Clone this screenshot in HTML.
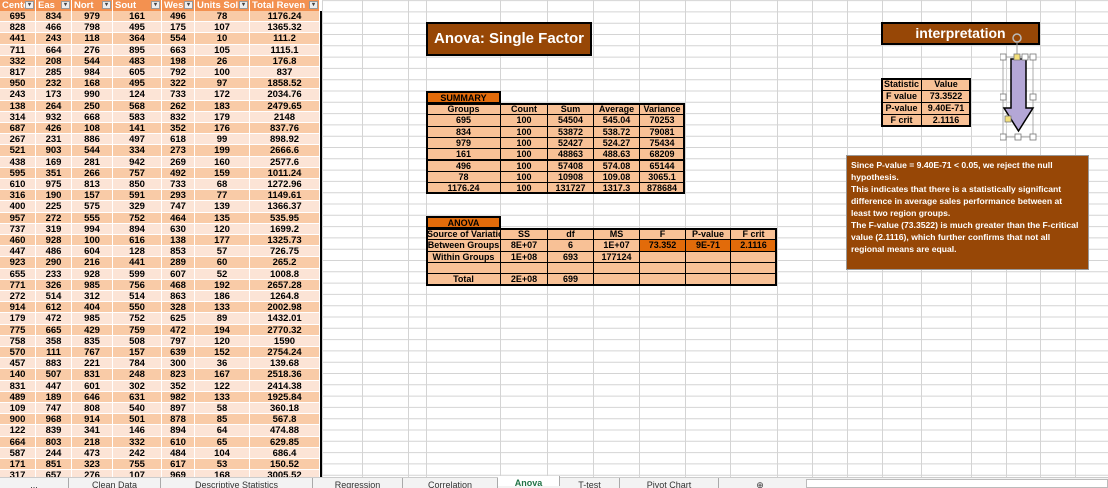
<!DOCTYPE html>
<html><head><meta charset="utf-8">
<style>
*{margin:0;padding:0;box-sizing:border-box}
body{width:1108px;height:488px;overflow:hidden;background:#fff;position:relative;font-family:"Liberation Sans",sans-serif}
.abs{position:absolute}
#grid{position:absolute;left:0;top:0;width:1108px;height:477px}
.cell{position:absolute;font-weight:bold;font-size:9.5px;line-height:11px;text-align:center;color:#000;white-space:nowrap;overflow:hidden}
.hdr{position:absolute;top:0;height:11px;background:#f39150;color:#fff;font-weight:bold;font-size:9.5px;line-height:11px;padding-left:2px;overflow:hidden;white-space:nowrap;border-right:1px solid #fff}
.dd{position:absolute;right:1px;top:1px;width:9px;height:8px;background:#eee;border:1px solid #999;font-size:6px;line-height:6px;color:#444;text-align:center}
.t{position:absolute;font-weight:bold;font-size:9px;text-align:center;line-height:11px;border:1px solid #000;background:#f8c196;white-space:nowrap;overflow:hidden}
.tab{position:absolute;top:478px;height:10px;font-size:9px;color:#333;line-height:14px;border-right:1px solid #aaa;text-align:center;overflow:hidden}
</style></head><body>
<svg id="grid"></svg>
<div id="datatable"></div>
<div class="abs" style="left:320px;top:11px;width:2px;height:466px;background:#000"></div>

<div class="abs" style="left:426px;top:22px;width:166px;height:34px;background:#974706;border:2px solid #000;color:#fff;font-weight:bold;font-size:15px;line-height:30px;padding-left:6px">Anova: Single Factor</div>

<div id="summary"></div>
<div id="anova"></div>

<div class="abs" style="left:881px;top:22px;width:159px;height:23px;background:#974706;border:2px solid #000;color:#fff;font-weight:bold;font-size:14px;line-height:19px;text-align:center">interpretation</div>

<div id="stats"></div>

<svg class="abs" style="left:1000px;top:30px" width="50" height="112">
<circle cx="17" cy="8" r="4" fill="none" stroke="#bbb" stroke-width="1.5"/>
<line x1="17" y1="12" x2="17" y2="27" stroke="#999"/>
<rect x="3" y="27" width="30" height="80" fill="none" stroke="#999" stroke-width="0.8"/>
<polygon points="11,29 26,29 26,78 33,78 18.5,101 4,78 11,78" fill="#b4a7d6" stroke="#000" stroke-width="1.5"/>
<g fill="#fff" stroke="#777" stroke-width="0.8">
<rect x="0" y="24" width="6" height="6"/><rect x="14" y="24" width="6" height="6" fill="#f3df7a"/><rect x="22" y="24" width="6" height="6"/><rect x="30" y="24" width="6" height="6"/>
<rect x="0" y="64" width="6" height="6"/><rect x="30" y="64" width="6" height="6"/>
<rect x="5" y="86" width="6" height="6" fill="#f3df7a"/>
<rect x="0" y="104" width="6" height="6"/><rect x="15" y="104" width="6" height="6"/><rect x="30" y="104" width="6" height="6"/>
</g>
</svg>

<div class="abs" style="left:846px;top:155px;width:243px;height:115px;background:#974706;border:1px solid #999;color:#fff;font-weight:bold;font-size:8.6px;line-height:12px;padding:3px 4px">Since P-value = 9.40E-71 &lt; 0.05, we reject the null hypothesis.<br>This indicates that there is a statistically significant difference in average sales performance between at least two region groups.<br>The F-value (73.3522) is much greater than the F-critical value (2.1116), which further confirms that not all regional means are equal.</div>

<div class="abs" style="left:0;top:477px;width:1108px;height:11px;background:#f3f3f3;border-top:1px solid #ccc"></div>
<div class="tab" style="left:0;width:69px">...</div>
<div class="tab" style="left:69px;width:92px">Clean Data</div>
<div class="tab" style="left:161px;width:152px">Descriptive Statistics</div>
<div class="tab" style="left:313px;width:90px">Regression</div>
<div class="tab" style="left:403px;width:95px">Correlation</div>
<div class="tab" style="left:498px;width:62px;background:#fff;color:#217346;font-weight:bold;top:476px">Anova</div>
<div class="tab" style="left:560px;width:60px">T-test</div>
<div class="tab" style="left:620px;width:99px">Pivot Chart</div>
<div class="tab" style="left:745px;width:30px;border:none">⊕</div>
<div class="abs" style="left:806px;top:479px;width:302px;height:9px;border:1px solid #bbb;background:#fff"></div>

<script>
const headers=["Cente","Eas","Nort","Sout","Wes","Units Sol","Total Reven"];
const rows=[
[695,834,979,161,496,78,"1176.24"],[828,466,798,495,175,107,"1365.32"],[441,243,118,364,554,10,"111.2"],
[711,664,276,895,663,105,"1115.1"],[332,208,544,483,198,26,"176.8"],[817,285,984,605,792,100,"837"],
[950,232,168,495,322,97,"1858.52"],[243,173,990,124,733,172,"2034.76"],[138,264,250,568,262,183,"2479.65"],
[314,932,668,583,832,179,"2148"],[687,426,108,141,352,176,"837.76"],[267,231,886,497,618,99,"898.92"],
[521,903,544,334,273,199,"2666.6"],[438,169,281,942,269,160,"2577.6"],[595,351,266,757,492,159,"1011.24"],
[610,975,813,850,733,68,"1272.96"],[316,190,157,591,293,77,"1149.61"],[400,225,575,329,747,139,"1366.37"],
[957,272,555,752,464,135,"535.95"],[737,319,994,894,630,120,"1699.2"],[460,928,100,616,138,177,"1325.73"],
[447,486,604,128,853,57,"726.75"],[923,290,216,441,289,60,"265.2"],[655,233,928,599,607,52,"1008.8"],
[771,326,985,756,468,192,"2657.28"],[272,514,312,514,863,186,"1264.8"],[914,612,404,550,328,133,"2002.98"],
[179,472,985,752,625,89,"1432.01"],[775,665,429,759,472,194,"2770.32"],[758,358,835,508,797,120,"1590"],
[570,111,767,157,639,152,"2754.24"],[457,883,221,784,300,36,"139.68"],[140,507,831,248,823,167,"2518.36"],
[831,447,601,302,352,122,"2414.38"],[489,189,646,631,982,133,"1925.84"],[109,747,808,540,897,58,"360.18"],
[900,968,914,501,878,85,"567.8"],[122,839,341,146,894,64,"474.88"],[664,803,218,332,610,65,"629.85"],
[587,244,473,242,484,104,"686.4"],[171,851,323,755,617,53,"150.52"],[317,657,276,107,969,168,"3005.52"]];
const summaryHead=["Groups","Count","Sum","Average","Variance"];
const summaryRows=[["695","100","54504","545.04","70253"],["834","100","53872","538.72","79081"],["979","100","52427","524.27","75434"],
["161","100","48863","488.63","68209"],["496","100","57408","574.08","65144"],["78","100","10908","109.08","3065.1"],["1176.24","100","131727","1317.3","878684"]];
const anovaHead=["Source of Variation","SS","df","MS","F","P-value","F crit"];
const anovaRows=[["Between Groups","8E+07","6","1E+07","73.352","9E-71","2.1116"],["Within Groups","1E+08","693","177124","","",""],["","","","","","",""],["Total","2E+08","699","","","",""]];
const statsRows=[["Statistic","Value"],["F value","73.3522"],["P-value","9.40E-71"],["F crit","2.1116"]];

// gridlines
const g=document.getElementById('grid');
const vx=[322,362,408,426,500,547,593,639,685,730,777,812,847,882,921,971,1006,1040,1075,1108];
vx.forEach(x=>{const l=document.createElementNS('http://www.w3.org/2000/svg','line');


l.setAttribute('x1',x+.5);l.setAttribute('x2',x+.5);l.setAttribute('y1',0);l.setAttribute('y2',477);l.setAttribute('stroke','#d4d4d4');g.appendChild(l);});
for(let y=0.6;y<477;y+=11.3){const l=document.createElementNS('http://www.w3.org/2000/svg','line');


l.setAttribute('x1',322);l.setAttribute('x2',1108);l.setAttribute('y1',y);l.setAttribute('y2',y);l.setAttribute('stroke','#d4d4d4');g.appendChild(l);}

// left data table
const cols=[0,36,72,113,162,195,250,320];
const dt=document.getElementById('datatable');
headers.forEach((h,i)=>{const d=document.createElement('div');d.className='hdr';


d.style.left=cols[i]+'px';d.style.width=(cols[i+1]-cols[i])+'px';d.textContent=h;
const b=document.createElement('span');b.className='dd';b.textContent='▾';


d.appendChild(b);dt.appendChild(d);});
rows.forEach((r,k)=>{const top=11+k*11.2;
const bg=document.createElement('div');bg.className='abs';


bg.style.cssText=`left:0;top:${top}px;width:320px;height:11.2px;background:${k%2?'#fce4d6':'#f9cba7'}`;dt.appendChild(bg);
r.forEach((v,i)=>{const c=document.createElement('div');c.className='cell';


c.style.left=cols[i]+'px';c.style.top=top+'px';c.style.width=(cols[i+1]-cols[i])+'px';c.style.height='11.2px';
c.style.borderRight='1px solid #fff';c.style.borderBottom='1px solid #fff';c.textContent=v;dt.appendChild(c);});});

function tcell(parent,x,y,w,h,txt,bg,name){const c=document.createElement('div');c.className='t';


c.style.left=x+'px';c.style.top=y+'px';c.style.width=(w+1)+'px';c.style.height=(h+1)+'px';if(bg)c.style.background=bg;c.textContent=txt;parent.appendChild(c);return c;}

// summary
const sm=document.getElementById('summary');
const sc=[426,500,547,593,639,684];
tcell(sm,426,91,74,12,'SUMMARY','#e26b0a','summary-label').style.border='2px solid #000';
const sy=103,rh=11.3;
summaryHead.forEach((h,i)=>tcell(sm,sc[i],sy,sc[i+1]-sc[i],rh,h,null,'summary-header'));
summaryRows.forEach((r,k)=>r.forEach((v,i)=>tcell(sm,sc[i],sy+rh*(k+1),sc[i+1]-sc[i],rh,v,null,'summary-cell')));
const sb=document.createElement('div');sb.className='abs';


sb.style.cssText=`left:426px;top:${sy}px;width:259px;height:${rh*8+1}px;border:2px solid #000`;sm.appendChild(sb);

// anova
const an=document.getElementById('anova');
const ac=[426,500,547,593,639,685,730,776];
tcell(an,426,216,74,12,'ANOVA','#e26b0a','anova-label').style.border='2px solid #000';
const ay=228;
anovaHead.forEach((h,i)=>tcell(an,ac[i],ay,ac[i+1]-ac[i],rh,h,null,'anova-header'));
anovaRows.forEach((r,k)=>r.forEach((v,i)=>tcell(an,ac[i],ay+rh*(k+1),ac[i+1]-ac[i],rh,v,(k==0&&i>=4)?'#e26b0a':null,'anova-cell')));
const ab=document.createElement('div');ab.className='abs';


ab.style.cssText=`left:426px;top:${ay}px;width:351px;height:${rh*5+1}px;border:2px solid #000`;an.appendChild(ab);

// stats
const st=document.getElementById('stats');
const tc=[881,921,970];
statsRows.forEach((r,k)=>r.forEach((v,i)=>tcell(st,tc[i],78+k*12,tc[i+1]-tc[i],12,v,null,'stats-cell')));
const tb=document.createElement('div');tb.className='abs';


tb.style.cssText='left:881px;top:78px;width:90px;height:49px;border:2px solid #000';st.appendChild(tb);
</script>
</body></html>
